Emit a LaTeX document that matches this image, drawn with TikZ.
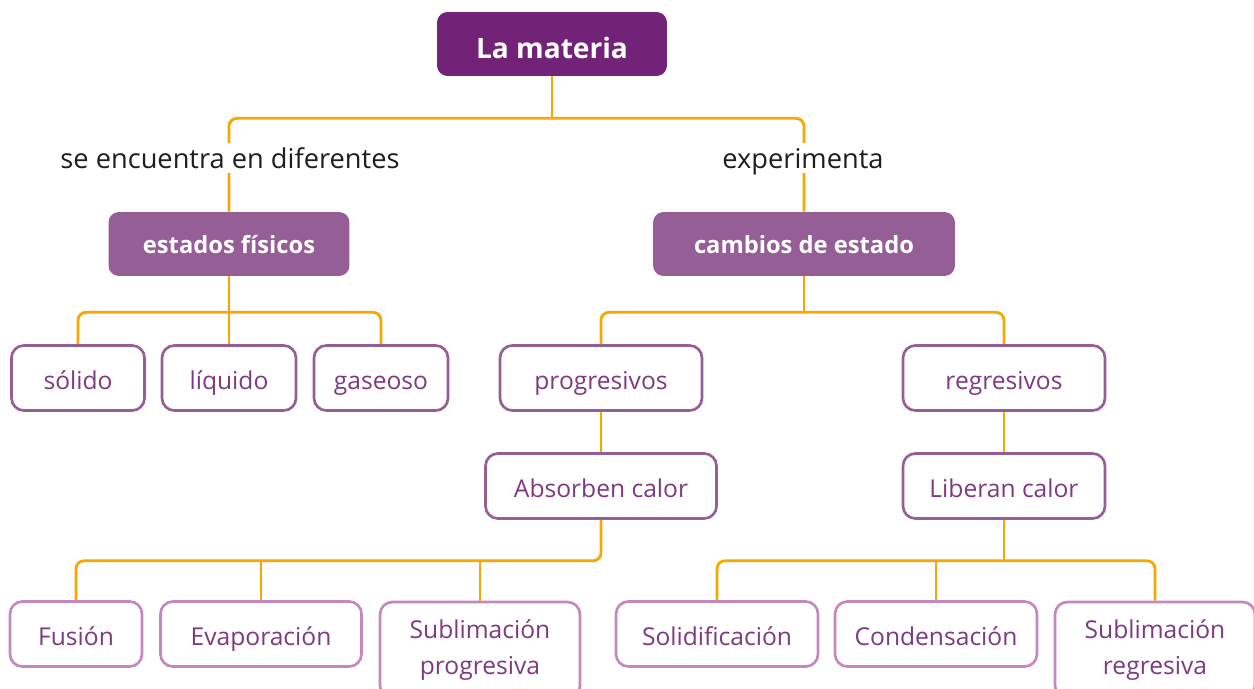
\documentclass[tikz,border=0pt]{standalone}
\usepackage{fontspec}
\setmainfont{Open Sans}
\usetikzlibrary{positioning}
\definecolor{materia}{HTML}{722377}
\definecolor{malva}{HTML}{955E96}
\definecolor{lila}{HTML}{C487C0}
\definecolor{tinta}{HTML}{7D3A80}
\definecolor{naranja}{HTML}{F7A800}
\definecolor{gris}{HTML}{1E1E1E}
\tikzset{
	topbox/.style={rectangle, rounded corners=6pt, fill=materia, text=white,
		minimum width=4.6cm, minimum height=1.28cm, text height=16pt, text depth=0pt,
		font=\fontsize{16}{19}\selectfont\bfseries},
	catbox/.style={rectangle, rounded corners=6pt, fill=malva, text=white,
		minimum height=1.28cm, text height=12pt, text depth=1pt,
		font=\fontsize{13.5}{16}\selectfont\bfseries},
	itembox/.style={rectangle, rounded corners=7pt, draw=malva, line width=1.5pt, fill=white,
		text=tinta, minimum height=1.3cm, align=center, text height=14pt, text depth=0.5pt,
		font=\fontsize{14}{20}\selectfont},
	leafbox/.style={itembox, draw=lila},
	twoline/.style={text height=, text depth=, minimum height=1.92cm},
	link/.style={draw=naranja, line width=1.6pt, rounded corners=4.5pt},
	lbl/.style={fill=white, text=gris, inner sep=2pt, text height=12pt, text depth=0.6pt,
		font=\fontsize{15.5}{18}\selectfont}
}
\begin{document}
\begin{tikzpicture}[x=0.02cm, y=-0.02cm]
	\useasboundingbox (0,0) rectangle (1254,689);
	\clip (0,0) rectangle (1254,689);
	% top and categories
	\node[topbox] (mat) at (552,44) {La materia};
	\node[catbox, minimum width=4.82cm] (est) at (229,244) {estados físicos};
	\node[catbox, minimum width=6.04cm] (cam) at (804,244) {cambios de estado};
	% states
	\node[itembox, minimum width=2.66cm] (sol) at (78,378) {sólido};
	\node[itembox, minimum width=2.68cm] (liq) at (229,378) {líquido};
	\node[itembox, minimum width=2.68cm] (gas) at (381,378) {gaseoso};
	% changes
	\node[itembox, minimum width=4.04cm] (prog) at (601,378) {progresivos};
	\node[itembox, minimum width=4.04cm] (regr) at (1004,378) {regresivos};
	\node[itembox, minimum width=4.62cm] (abs) at (601,486) {Absorben calor};
	\node[itembox, minimum width=4.04cm] (lib) at (1004,486) {Liberan calor};
	% leaves
	\node[leafbox, minimum width=2.64cm] (fus) at (76,634) {Fusión};
	\node[leafbox, minimum width=4.02cm] (eva) at (261,634) {Evaporación};
	\node[leafbox, twoline, minimum width=4.0cm] (subp) at (480,650) {Sublimación\\progresiva};
	\node[leafbox, minimum width=4.04cm] (soli) at (717,634) {Solidificación};
	\node[leafbox, minimum width=4.04cm] (cond) at (936,634) {Condensación};
	\node[leafbox, twoline, minimum width=4.0cm] (subr) at (1155,650) {Sublimación\\regresiva};
	% connectors
	\draw[link] (est.north) |- ([yshift=-0.84cm]mat.south) -| (cam.north);
	\draw[link] (mat.south) -- ([yshift=-0.84cm]mat.south);
	\draw[link] (sol.north) |- ([yshift=-0.72cm]est.south) -| (gas.north);
	\draw[link] (est.south) -- (liq.north);
	\draw[link] (prog.north) |- ([yshift=-0.72cm]cam.south) -| (regr.north);
	\draw[link] (cam.south) -- ([yshift=-0.72cm]cam.south);
	\draw[link] (prog.south) -- (abs.north);
	\draw[link] (regr.south) -- (lib.north);
	\draw[link] (fus.north) |- ([yshift=-0.82cm]abs.south) -- (abs.south);
	\draw[link] (eva.north) -- ([yshift=-0.82cm]eva.north |- abs.south);
	\draw[link] (subp.north) -- ([yshift=-0.82cm]subp.north |- abs.south);
	\draw[link] (subr.north) |- ([yshift=-0.82cm]lib.south) -| (soli.north);
	\draw[link] (lib.south) -- ([yshift=-0.82cm]lib.south);
	\draw[link] (cond.north) -- ([yshift=-0.82cm]cond.north |- lib.south);
	% linking words
	\node[lbl] (enc) at (230,158) {se encuentra en diferentes};
	\node[lbl] (exp) at (803,158) {experimenta};
\end{tikzpicture}
\end{document}
